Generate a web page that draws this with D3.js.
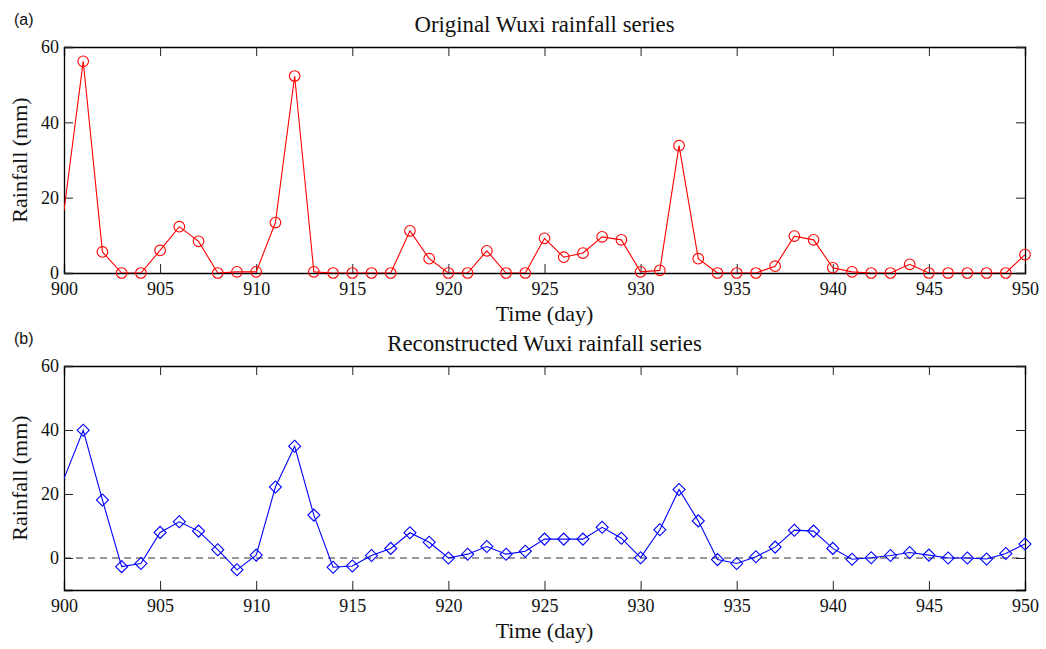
<!DOCTYPE html>
<html>
<head>
<meta charset="utf-8">
<script src="https://cdn.jsdelivr.net/npm/d3@7"></script>
<style>
  body { margin: 0; background: #fff; }
  svg { display: block; }
  .tick text { font-family: "Liberation Serif", "Times New Roman", serif; font-size: 18px; fill: #111; }
  .lab { font-family: "Liberation Serif", "Times New Roman", serif; font-size: 22px; fill: #111; }
  .ttl { font-family: "Liberation Serif", "Times New Roman", serif; font-size: 22.8px; fill: #111; }
  .tag { font-family: "Liberation Sans", Arial, sans-serif; font-size: 16px; fill: #111; }
</style>
</head>
<body>
<div class="fig"></div>
<script>
// day index, shared by both panels
var days = d3.range(900, 951);

// (a) original rainfall, mm
var original = [16.6, 56.2, 5.6, 0, 0, 6.0, 12.3, 8.4, 0, 0.3,
  0.3, 13.4, 52.3, 0.3, 0, 0, 0, 0, 11.2, 3.8,
  0, 0, 5.9, 0, 0, 9.2, 4.2, 5.3, 9.6, 8.8,
  0.3, 0.7, 33.8, 3.8, 0, 0, 0, 1.8, 9.8, 8.8,
  1.4, 0.3, 0, 0, 2.3, 0, 0, 0, 0, 0, 4.9];

// (b) reconstructed rainfall, mm
var reconstructed = [24.8, 39.9, 18.1, -2.7, -1.7, 8.0, 11.3, 8.4, 2.6, -3.7,
  0.9, 22.2, 34.9, 13.4, -2.9, -2.5, 0.8, 3.0, 7.9, 4.9,
  0, 1.2, 3.6, 1.2, 2.1, 5.9, 5.9, 5.9, 9.6, 6.2,
  0.1, 8.8, 21.4, 11.6, -0.5, -1.7, 0.4, 3.4, 8.7, 8.4,
  3.0, -0.4, 0.1, 0.8, 1.7, 0.9, 0, 0, -0.3, 1.4, 4.4];

var xTicks = [900, 905, 910, 915, 920, 925, 930, 935, 940, 945, 950];
var yTicks = [0, 20, 40, 60];

var W = 1046, H = 649;
var canvas = d3.select(".fig").append("svg")
  .attr("width", W).attr("height", H);

var xScale = d3.scaleLinear().domain([900, 950]).range([64, 1025]);

var panels = [
  {tag: "(a)", title: "Original Wuxi rainfall series", vals: original,
   ymin: 0, top: 47, bottom: 273, color: "#ff0000", marker: "circle", id: "ca"},
  {tag: "(b)", title: "Reconstructed Wuxi rainfall series", vals: reconstructed,
   ymin: -10, top: 366, bottom: 590, color: "#0000ff", marker: "diamond", id: "cb"}
];

panels.forEach(function(p){
  var yScale = d3.scaleLinear().domain([p.ymin, 60]).range([p.bottom, p.top]);
  var g = canvas.append("g");
  var left = xScale.range()[0], right = xScale.range()[1];

  g.append("clipPath").attr("id", p.id)
    .append("rect")
    .attr("x", left).attr("y", p.top)
    .attr("width", right - left).attr("height", p.bottom - p.top);

  // zero reference line (dashed) for the reconstructed panel
  if (p.ymin < 0) {
    g.append("line")
      .attr("x1", left).attr("x2", right)
      .attr("y1", yScale(0)).attr("y2", yScale(0))
      .attr("stroke", "#333").attr("stroke-width", 1)
      .attr("stroke-dasharray", "7,5");
  }

  // axes, matlab style: ticks inward on all four sides
  var tk = 9;
  g.append("g").attr("transform", "translate(0," + p.bottom + ")")
    .call(d3.axisBottom(xScale).tickValues(xTicks).tickSize(-tk).tickPadding(9).tickFormat(d3.format("d")));
  g.append("g").attr("transform", "translate(0," + p.top + ")")
    .call(d3.axisTop(xScale).tickValues(xTicks).tickSize(-tk).tickFormat(""));
  g.append("g").attr("transform", "translate(" + left + ",0)")
    .call(d3.axisLeft(yScale).tickValues(yTicks).tickSize(-tk).tickPadding(5));
  g.append("g").attr("transform", "translate(" + right + ",0)")
    .call(d3.axisRight(yScale).tickValues(yTicks).tickSize(-tk).tickFormat(""));
  g.selectAll(".domain").attr("stroke", "#000").attr("stroke-width", 1.3);
  g.selectAll(".tick line").attr("stroke", "#222");

  var pts = days.map(function(d, i){ return {day: d, v: p.vals[i]}; });

  var line = d3.line()
    .x(function(d){ return xScale(d.day); })
    .y(function(d){ return yScale(d.v); });

  g.append("path")
    .datum(pts)
    .attr("clip-path", "url(#" + p.id + ")")
    .attr("fill", "none")
    .attr("stroke", p.color)
    .attr("stroke-width", 1.1)
    .attr("d", line);

  // markers (none at the first day, line enters from the left edge)
  var mk = pts.filter(function(d){ return d.day > 900; });
  if (p.marker == "circle") {
    g.selectAll("circle.m").data(mk).enter().append("circle")
      .attr("class", "m")
      .attr("cx", function(d){ return xScale(d.day); })
      .attr("cy", function(d){ return yScale(d.v); })
      .attr("r", 5.3)
      .attr("fill", "none").attr("stroke", p.color).attr("stroke-width", 1.1);
  } else {
    g.selectAll("path.m").data(mk).enter().append("path")
      .attr("class", "m")
      .attr("d", d3.symbol().type(d3.symbolSquare).size(72))
      .attr("transform", function(d){ return "translate(" + xScale(d.day) + "," + yScale(d.v) + ") rotate(45)"; })
      .attr("fill", "none").attr("stroke", p.color).attr("stroke-width", 1.1);
  }

  // text
  g.append("text").attr("class", "ttl")
    .attr("x", (left + right) / 2).attr("y", p.top - 15)
    .attr("text-anchor", "middle").text(p.title);
  g.append("text").attr("class", "lab")
    .attr("x", (left + right) / 2).attr("y", p.bottom + 48)
    .attr("text-anchor", "middle").text("Time (day)");
  g.append("text").attr("class", "lab")
    .attr("transform", "translate(27," + (p.top + p.bottom) / 2 + ") rotate(-90)")
    .attr("text-anchor", "middle").text("Rainfall (mm)");
  g.append("text").attr("class", "tag")
    .attr("x", 14).attr("y", p.top - 22)
    .text(p.tag);
});
</script>
</body>
</html>
